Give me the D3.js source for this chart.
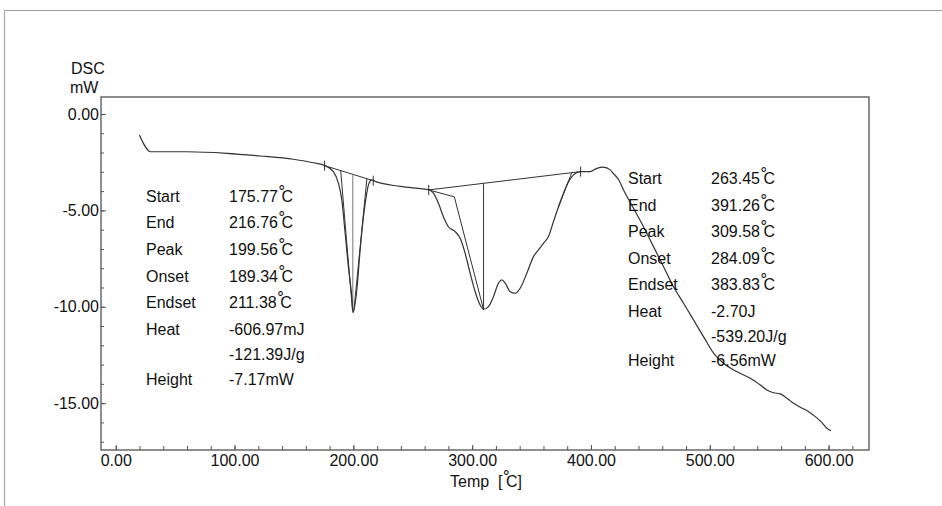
<!DOCTYPE html>
<html>
<head>
<meta charset="utf-8">
<script src="https://cdn.jsdelivr.net/npm/d3@7"></script>
<style>
  body { margin: 0; background: #fff; }
  svg { display: block; font-family: "Liberation Sans", Arial, sans-serif; }
</style>
</head>
<body>
<div class="chart"></div>
<script>
// DSC curve (Temp in C, DSC in mW)
const temps = [19.9, 29.5, 59.8, 93.5, 121.5, 149.5, 166.4, 176.2, 183.2, 187.4, 190.3, 193.1, 195.8, 198.7, 199.8,
    202.9, 205.7, 208.5, 211.3, 212.7, 215.5, 216.9, 239.4, 264.0, 267.4, 271.6, 275.8, 280.0, 285.7, 289.9,
    294.1, 298.3, 302.5, 306.7, 309.5, 313.7, 317.9, 322.1, 325.0, 327.8, 332.0, 336.2, 340.4, 346.0, 351.6,
    355.8, 360.0, 364.2, 368.4, 372.7, 376.9, 381.1, 385.3, 390.9, 399.3, 405.0, 410.5, 416.2, 419.0, 423.2,
    427.4, 435.8, 444.2, 452.6, 461.1, 469.5, 477.9, 486.3, 494.7, 503.2, 511.6, 522.9, 534.1, 542.5, 548.1,
    553.7, 559.3, 565.0, 570.5, 576.2, 583.2, 588.8, 594.4, 598.6, 602.0];
const dsc = [-1.09, -1.96, -1.96, -2.04, -2.18, -2.35, -2.53, -2.68, -2.99, -3.59, -4.46, -6.19, -7.92, -9.48, -10.30,
    -9.13, -7.05, -5.33, -4.11, -3.68, -3.42, -3.46, -3.76, -3.94, -4.11, -4.63, -5.33, -5.85, -6.10, -6.45,
    -7.23, -8.26, -9.22, -9.91, -10.13, -9.99, -9.48, -8.78, -8.61, -8.78, -9.22, -9.30, -9.04, -8.26, -7.40,
    -7.05, -6.71, -6.36, -5.59, -4.81, -4.11, -3.51, -3.16, -2.99, -2.99, -2.82, -2.76, -2.90, -3.10, -3.40,
    -3.94, -4.89, -5.85, -6.88, -7.92, -8.96, -9.82, -10.68, -11.55, -12.41, -12.93, -13.37, -13.71, -14.06, -14.32,
    -14.46, -14.52, -14.75, -15.01, -15.21, -15.44, -15.70, -16.01, -16.30, -16.43];

// peak analysis (two peaks)
const peakStart = [175.77, 263.45];
const peakEnd = [216.76, 391.26];
const peakTemp = [199.56, 309.58];
const peakOnset = [189.34, 284.09];
const peakEndset = [211.38, 383.83];
const peakHeight = [-7.17, -6.56];
const baseStart = [-2.68, -3.94];   // baseline mW at start mark
const baseEnd = [-3.46, -2.99];     // baseline mW at end mark

const labelsLeft = ['Start', 'End', 'Peak', 'Onset', 'Endset', 'Heat', '', 'Height'];
const valuesLeft = ['175.77', '216.76', '199.56', '189.34', '211.38', '-606.97mJ', '-121.39J/g', '-7.17mW'];
const labelsRight = ['Start', 'End', 'Peak', 'Onset', 'Endset', 'Heat', '', 'Height'];
const valuesRight = ['263.45', '391.26', '309.58', '284.09', '383.83', '-2.70J', '-539.20J/g', '-6.56mW'];

const xMajor = [0, 100, 200, 300, 400, 500, 600];
const xMinor = d3.range(0, 621, 20);
const yMajor = [0, -5, -10, -15];
const yMinor = d3.range(0, -17.5, -1);

const dims = { width: 942, height: 506, left: 101, right: 869, top: 97, bottom: 450 };

const svg = d3.select('.chart').append('svg')
    .attr('width', dims.width)
    .attr('height', dims.height);

const x = d3.scaleLinear().domain([-12.4, 634]).range([dims.left, dims.right]);
const y = d3.scaleLinear().domain([0.88, -17.43]).range([dims.top, dims.bottom]);

// scan page edges
svg.append('line').attr('x1', 4).attr('x2', 942).attr('y1', 10.5).attr('y2', 10.5)
    .attr('stroke', '#999').attr('stroke-width', 1.2);
svg.append('line').attr('x1', 4.5).attr('x2', 4.5).attr('y1', 10).attr('y2', 506)
    .attr('stroke', '#aaa').attr('stroke-width', 1.2);

// plot frame
svg.append('rect')
    .attr('x', dims.left).attr('y', dims.top)
    .attr('width', dims.right - dims.left).attr('height', dims.bottom - dims.top)
    .attr('fill', 'none').attr('stroke', '#444').attr('stroke-width', 1.2);

// axes
const yAxisMinor = d3.axisLeft(y).tickValues(yMinor).tickSizeInner(-3).tickSizeOuter(0).tickFormat('');
const yAxis = d3.axisLeft(y).tickValues(yMajor).tickSizeInner(-5).tickSizeOuter(0).tickPadding(2)
    .tickFormat(d => d.toFixed(2));
const xAxisMinor = d3.axisBottom(x).tickValues(xMinor).tickSizeInner(-4).tickSizeOuter(0).tickFormat('');
const xAxis = d3.axisBottom(x).tickValues(xMajor).tickSizeInner(-5).tickSizeOuter(0).tickPadding(5)
    .tickFormat(d => d.toFixed(2));

[[yAxisMinor, `translate(${dims.left},0)`], [yAxis, `translate(${dims.left},0)`],
 [xAxisMinor, `translate(0,${dims.bottom})`], [xAxis, `translate(0,${dims.bottom})`]].forEach(([ax, tr]) => {
    const g = svg.append('g').attr('transform', tr).call(ax);
    g.select('.domain').remove();
    g.selectAll('.tick line').attr('stroke', '#555');
    g.selectAll('.tick text').attr('font-size', 16).attr('fill', '#111')
        .attr('font-family', '"Liberation Sans", Arial, sans-serif');
});

// axis titles
svg.append('text').attr('x', 71).attr('y', 74).attr('font-size', 16).attr('fill', '#111').text('DSC');
svg.append('text').attr('x', 70).attr('y', 93).attr('font-size', 16).attr('fill', '#111').text('mW');

// degree sign sitting over the C, as printed by the instrument
function degC(sel) {
    sel.append('tspan').attr('dy', -5).attr('font-size', 15).attr('font-family', '"DejaVu Sans", sans-serif').text('°');
    sel.append('tspan').attr('dx', -4).attr('dy', 5).text('C');
}

const xt = svg.append('text').attr('x', 450).attr('y', 487).attr('font-size', 16).attr('fill', '#111')
    .attr('xml:space', 'preserve');
xt.append('tspan').text('Temp  [');
degC(xt);
xt.append('tspan').text(']');

// construction lines
const ink = '#333';
const lineGen = d3.line().x(d => x(d[0])).y(d => y(d[1]));
const baseAt = (i, t) => baseStart[i] + (t - peakStart[i]) / (peakEnd[i] - peakStart[i]) * (baseEnd[i] - baseStart[i]);

const guides = svg.append('g').attr('fill', 'none').attr('stroke', ink).attr('stroke-width', 1);
peakStart.forEach((s, i) => {
    const bPeak = baseAt(i, peakTemp[i]);
    // baseline
    guides.append('path').attr('d', lineGen([[s, baseStart[i]], [peakEnd[i], baseEnd[i]]]));
    // peak vertical
    guides.append('path').attr('stroke', i === 0 ? '#777' : ink)
        .attr('d', lineGen([[peakTemp[i], bPeak], [peakTemp[i], bPeak + peakHeight[i]]]));
    // start / end marks
    [[s, baseStart[i]], [peakEnd[i], baseEnd[i]]].forEach(p => {
        guides.append('line')
            .attr('x1', x(p[0])).attr('x2', x(p[0]))
            .attr('y1', y(p[1]) - 5).attr('y2', y(p[1]) + 5);
    });
});
// onset / endset tangents
guides.append('path').attr('d', lineGen([[peakOnset[0], baseAt(0, peakOnset[0])], [peakTemp[0] - 0.3, -10.2]]));
guides.append('path').attr('d', lineGen([[peakEndset[0], baseAt(0, peakEndset[0])], [peakTemp[0] + 0.9, -10.2]]));
guides.append('path').attr('d', lineGen([[peakStart[1], baseStart[1]], [peakOnset[1] + 0.9, -4.30], [peakTemp[1] - 0.2, -10.1]]));
guides.append('path').attr('d', lineGen([[peakEndset[1], baseAt(1, peakEndset[1])], [372.7, -4.81]]));

// DSC curve
const data = temps.map((t, i) => ({ t, v: dsc[i] }));
svg.append('path')
    .attr('d', d3.line().x(d => x(d.t)).y(d => y(d.v)).curve(d3.curveMonotoneX)(data))
    .attr('fill', 'none').attr('stroke', '#333').attr('stroke-width', 1.2);

// annotation blocks
function block(labels, values, lx, vx, baselines) {
    const g = svg.append('g').attr('font-size', 16).attr('fill', '#111');
    labels.forEach((l, i) => {
        g.append('text').attr('x', lx).attr('y', baselines[i]).text(l);
        const t = g.append('text').attr('x', vx).attr('y', baselines[i]);
        t.append('tspan').text(values[i]);
        if (i < 5) degC(t);
    });
}
block(labelsLeft, valuesLeft, 146, 229, [202, 228, 254.5, 281.5, 308, 335, 359.5, 385]);
block(labelsRight, valuesRight, 628, 711, [184, 210.5, 237, 263.5, 290, 317, 341.5, 366]);
</script>
</body>
</html>
